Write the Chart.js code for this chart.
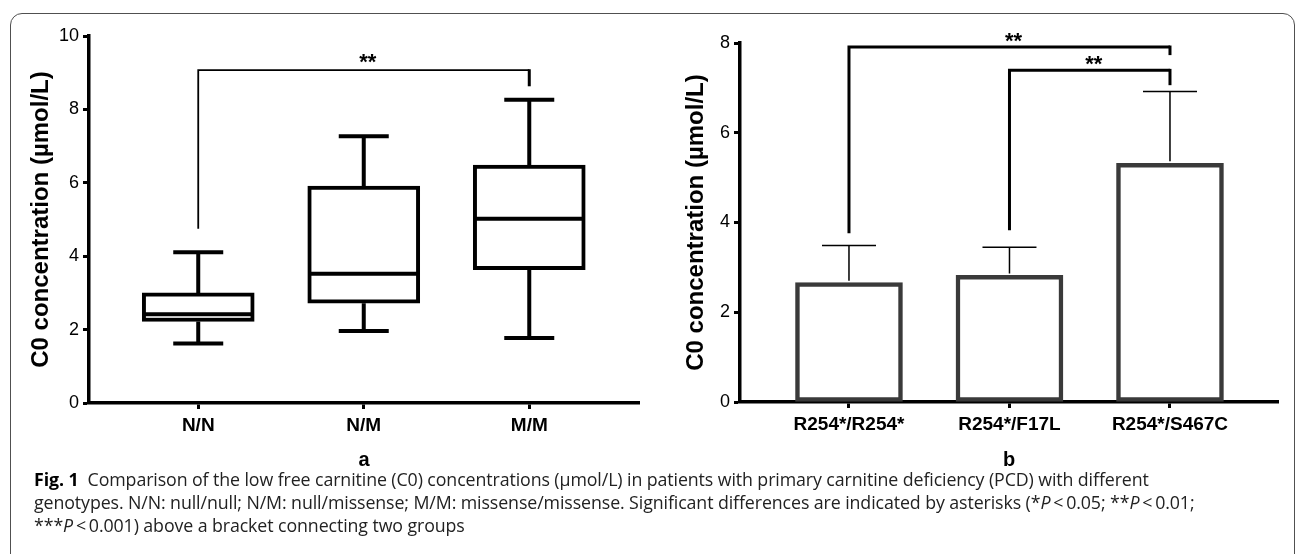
<!DOCTYPE html>
<html>
<head>
<meta charset="utf-8">
<script src="https://cdn.jsdelivr.net/npm/chart.js@4"></script>
<style>
  body { margin: 0; background: #fff; width: 1296px; height: 554px; overflow: hidden; position: relative; }
  #frame { position: absolute; left: 10px; top: 13px; width: 1285px; height: 600px; border: 1.5px solid #505050; border-radius: 12px; box-sizing: border-box; }
  #boxChart { position: absolute; left: 0; top: 0; }
  #barChart { position: absolute; left: 650px; top: 0; }
  #caption { position: absolute; left: 34px; top: 468px; font-family: "Open Sans", sans-serif; font-size: 17.8px; line-height: 23px; color: #222; white-space: nowrap; letter-spacing: -0.1px; }
  #caption b { color: #000; }
</style>
</head>
<body>
<div id="frame"></div>
<canvas id="boxChart" width="650" height="470"></canvas>
<canvas id="barChart" width="646" height="470"></canvas>
<div id="caption">
  <b>Fig. 1</b>&nbsp; Comparison of the low free carnitine (C0) concentrations (µmol/L) in patients with primary carnitine deficiency (PCD) with different<br>
  genotypes. N/N: null/null; N/M: null/missense; M/M: missense/missense. Significant differences are indicated by asterisks (*<i>P</i>&thinsp;&lt;&thinsp;0.05; **<i>P</i>&thinsp;&lt;&thinsp;0.01;<br>
  ***<i>P</i>&thinsp;&lt;&thinsp;0.001) above a bracket connecting two groups
</div>
<script>
// panel a: box plots
const genotypes = ['N/N', 'N/M', 'M/M'];
const boxMin = [1.62, 1.96, 1.77];
const boxQ1 = [2.22, 2.72, 3.63];
const boxMedian = [2.42, 3.52, 5.02];
const boxQ3 = [3.0, 5.91, 6.48];
const boxMax = [4.11, 7.27, 8.26];
const boxTicks = [0, 2, 4, 6, 8, 10];

// panel b: mean + upper SD
const variants = ['R254*/R254*', 'R254*/F17L', 'R254*/S467C'];
const barMean = [2.66, 2.82, 5.32];
const barUpper = [3.49, 3.45, 6.92];
const barTicks = [0, 2, 4, 6, 8];

// brackets: from group, to group, left foot, top, right foot
const bracketsA = [[0, 2, 4.75, 9.07, 8.63]];
const bracketsB = [[0, 2, 3.76, 7.91, 7.73], [1, 2, 3.83, 7.39, 7.06]];

const titleText = 'C0 concentration (µmol/L)';
const fontFam = '"Liberation Sans", Arial, sans-serif';
Chart.defaults.font.family = fontFam;
Chart.defaults.color = '#000';

// thin = line width of the long part, thick = the short right foot
function drawBrackets(ctx, x, y, list, thin, thick, starShift) {
  ctx.save();
  ctx.strokeStyle = '#000';
  ctx.fillStyle = '#000';
  ctx.font = 'bold 22px ' + fontFam;
  ctx.textAlign = 'center';
  ctx.textBaseline = 'alphabetic';
  list.forEach(b => {
    let x1 = x.getPixelForValue(b[0]);
    let x2 = x.getPixelForValue(b[1]);
    let yt = y.getPixelForValue(b[3]);
    ctx.lineWidth = thin;
    ctx.beginPath();
    ctx.moveTo(x1, y.getPixelForValue(b[2]));
    ctx.lineTo(x1, yt);
    ctx.lineTo(x2, yt);
    ctx.stroke();
    ctx.lineWidth = thick;
    ctx.beginPath();
    ctx.moveTo(x2, yt - thin / 2);
    ctx.lineTo(x2, y.getPixelForValue(b[4]));
    ctx.stroke();
    ctx.fillText('**', (x1 + x2) / 2 + 4, yt + starShift);
  });
  ctx.restore();
}

const boxExtras = {
  id: 'boxExtras',
  afterDatasetsDraw(chart) {
    const ctx = chart.ctx;
    const x = chart.scales.x, y = chart.scales.y;
    ctx.save();
    ctx.strokeStyle = '#000';
    ctx.lineWidth = 4;
    genotypes.forEach((g, i) => {
      let cx = x.getPixelForValue(i);
      ctx.beginPath();
      ctx.moveTo(cx, y.getPixelForValue(boxQ3[i]));
      ctx.lineTo(cx, y.getPixelForValue(boxMax[i]));
      ctx.moveTo(cx - 25, y.getPixelForValue(boxMax[i]));
      ctx.lineTo(cx + 25, y.getPixelForValue(boxMax[i]));
      ctx.moveTo(cx, y.getPixelForValue(boxQ1[i]));
      ctx.lineTo(cx, y.getPixelForValue(boxMin[i]));
      ctx.moveTo(cx - 25, y.getPixelForValue(boxMin[i]));
      ctx.lineTo(cx + 25, y.getPixelForValue(boxMin[i]));
      ctx.moveTo(cx - 54, y.getPixelForValue(boxMedian[i]));
      ctx.lineTo(cx + 54, y.getPixelForValue(boxMedian[i]));
      ctx.stroke();
    });
    ctx.restore();
    drawBrackets(ctx, x, y, bracketsA, 1.8, 3, -1);
  }
};

const barExtras = {
  id: 'barExtras',
  afterDatasetsDraw(chart) {
    const ctx = chart.ctx;
    const x = chart.scales.x, y = chart.scales.y;
    ctx.save();
    ctx.strokeStyle = '#000';
    ctx.lineWidth = 1.5;
    variants.forEach((v, i) => {
      let cx = x.getPixelForValue(i);
      ctx.beginPath();
      ctx.moveTo(cx, y.getPixelForValue(barMean[i]) - 2);
      ctx.lineTo(cx, y.getPixelForValue(barUpper[i]));
      ctx.moveTo(cx - 27, y.getPixelForValue(barUpper[i]));
      ctx.lineTo(cx + 27, y.getPixelForValue(barUpper[i]));
      ctx.stroke();
    });
    ctx.restore();
    drawBrackets(ctx, x, y, bracketsB, 3, 3, 1);
  }
};

function axisStyle() {
  return {
    offset: false,
    grid: { offset: false, drawOnChartArea: false, drawTicks: true, tickLength: 6, tickWidth: 3, color: '#000' },
    border: { color: '#000', width: 3.5 }
  };
}

function makeScales(cats, ticks, xmin, xmax, yMax, yWidth, xHeight, titlePad, panel) {
  return {
    x: Object.assign(axisStyle(), {
      type: 'linear', min: xmin, max: xmax,
      afterBuildTicks: s => { s.ticks = cats.map((c, i) => ({ value: i })); },
      afterFit: s => { s.height = xHeight; },
      ticks: { callback: v => cats[v], font: { size: 19, weight: 'bold' }, padding: 5, autoSkip: false, maxRotation: 0 },
      title: { display: true, text: panel, font: { size: 20, weight: 'bold', lineHeight: 1 }, padding: 0 }
    }),
    y: Object.assign(axisStyle(), {
      min: 0, max: yMax,
      afterBuildTicks: s => { s.ticks = ticks.map(v => ({ value: v })); },
      afterFit: s => { s.width = yWidth; },
      ticks: { font: { size: 18 }, padding: 4 },
      title: { display: true, text: titleText, font: { size: 24, weight: 'bold' }, padding: { top: titlePad, bottom: 0 } }
    })
  };
}

new Chart(document.getElementById('boxChart'), {
  type: 'bar',
  data: {
    datasets: [{
      data: genotypes.map((g, i) => ({ x: i, y: [boxQ1[i], boxQ3[i]] })),
      backgroundColor: '#fff',
      borderColor: '#000',
      borderWidth: 4,
      borderSkipped: false,
      barThickness: 112
    }]
  },
  options: {
    responsive: false,
    animation: false,
    layout: { padding: { left: 0, top: 36, right: 11, bottom: 0 } },
    plugins: { legend: { display: false }, tooltip: { enabled: false } },
    scales: makeScales(genotypes, boxTicks, -0.66, 2.663, 10, 89, 67, 27, 'a')
  },
  plugins: [boxExtras]
});

new Chart(document.getElementById('barChart'), {
  type: 'bar',
  data: {
    datasets: [{
      data: variants.map((v, i) => ({ x: i, y: barMean[i] })),
      backgroundColor: '#fff',
      borderColor: '#3a3a3a',
      borderWidth: 4.5,
      borderSkipped: false,
      barThickness: 107
    }]
  },
  options: {
    responsive: false,
    animation: false,
    layout: { padding: { left: 0, top: 43, right: 18, bottom: 0 } },
    plugins: { legend: { display: false }, tooltip: { enabled: false } },
    scales: makeScales(variants, barTicks, -0.679, 2.673, 8, 90, 68, 32, 'b')
  },
  plugins: [barExtras]
});
</script>
</body>
</html>
